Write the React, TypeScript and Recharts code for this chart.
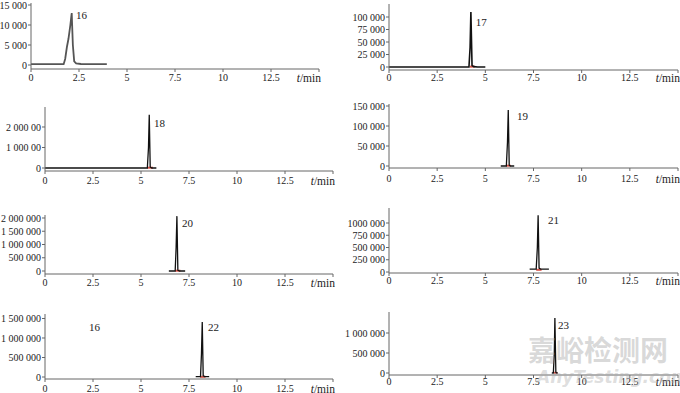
import React from "react";
import { LineChart, Line, XAxis, YAxis, ReferenceDot } from "recharts";

// retention time axis (min)
const timeTicks = [0, 2.5, 5, 7.5, 10, 12.5, 15];
const timeLabels = ["0", "2.5", "5", "7.5", "10", "12.5", ""];

// compound 16
const t16 = [0, 1.7, 1.78, 1.87, 1.95, 2.05, 2.12, 2.18, 2.25, 2.35, 2.6, 3.0, 3.95];
const s16 = [200, 200, 1500, 4500, 6500, 10000, 13000, 5000, 900, 400, 250, 200, 200];
const y16 = [0, 5000, 10000, 15000];
const y16Labels = ["0", "5 000", "10 000", "15 000"];

// compound 17
const t17 = [0, 4.15, 4.21, 4.25, 4.31, 4.4, 4.6, 5.0];
const s17 = [0, 0, 40000, 110000, 3000, 800, 0, 0];
const b17 = [[4.2, 700], [4.45, 700]];
const y17 = [0, 25000, 50000, 75000, 100000];
const y17Labels = ["0", "25 000", "50 000", "75 000", "100 000"];

// compound 18
const t18 = [0, 5.33, 5.39, 5.43, 5.48, 5.56, 5.8];
const s18 = [0, 0, 1000000, 2600000, 50000, 0, 0];
const b18 = [[5.33, 15000], [5.62, 15000]];
const y18 = [0, 1000000, 2000000];
const y18Labels = ["0", "1 000 00", "2 000 00"];

// compound 19
const t19 = [5.8, 6.09, 6.15, 6.19, 6.24, 6.3, 6.5];
const s19 = [0, 0, 60000, 140000, 2000, 0, 0];
const b19 = [[6.08, 800], [6.32, 800]];
const y19 = [0, 50000, 100000, 150000];
const y19Labels = ["0", "50 000", "100 000", "150 000"];

// compound 20
const t20 = [6.45, 6.78, 6.83, 6.87, 6.92, 7.0, 7.3];
const s20 = [0, 0, 900000, 2070000, 30000, 0, 0];
const b20 = [[6.78, 12000], [7.05, 12000]];
const y20 = [0, 500000, 1000000, 1500000, 2000000];
const y20Labels = ["0", "500 000", "1 000 000", "1 500 000", "2 000 000"];

// compound 21
const t21 = [7.3, 7.64, 7.7, 7.74, 7.79, 7.87, 8.3];
const s21 = [60000, 60000, 500000, 1160000, 80000, 60000, 60000];
const b21 = [[7.64, 45000], [7.92, 45000]];
const y21 = [0, 250000, 500000, 750000, 1000000];
const y21Labels = ["0", "250 000", "500 000", "750 000", "1000 000"];

// compound 22
const t22 = [7.85, 8.1, 8.15, 8.19, 8.24, 8.32, 8.55];
const s22 = [10000, 10000, 600000, 1410000, 30000, 10000, 10000];
const b22 = [[8.08, 5000], [8.36, 5000]];
const y22 = [0, 500000, 1000000, 1500000];
const y22Labels = ["0", "500 000", "1 000 000", "1 500 000"];

// compound 23
const t23 = [8.45, 8.53, 8.58, 8.61, 8.66, 8.71, 8.76];
const s23 = [0, 0, 500000, 1375000, 20000, 0, 0];
const b23 = [[8.5, 5000], [8.74, 5000]];
const y23 = [0, 500000, 1000000];
const y23Labels = ["0", "500 000", "1 000 000"];

const FONT = "'Liberation Serif'";
const AXIS = "#666";
const INK = "#222";

type Pt = { t: number; v: number };
type Tag = { t: number; v: number; text: string };

const toPts = (ts: number[], vs: number[]): Pt[] => ts.map((t, i) => ({ t, v: vs[i] }));
const toBase = (pairs: number[][]): Pt[] => pairs.map(([t, v]) => ({ t, v }));

const XTick = (props: any) => {
  const { x, y, payload } = props;
  const v = payload.value;
  if (v === 15) {
    return (
      <text x={x + 2} y={y} dy="0.71em" textAnchor="end" fill={INK} style={{ fontFamily: FONT, fontSize: 11.5 }}>
        <tspan fontStyle="italic">t</tspan>/min
      </text>
    );
  }
  return (
    <text x={x} y={y} dy="0.71em" textAnchor="middle" fill={INK} style={{ fontFamily: FONT, fontSize: 10 }}>
      {timeLabels[timeTicks.indexOf(v)]}
    </text>
  );
};

const makeYTick = (ticks: number[], labels: string[]) => (props: any) => {
  const { x, y, payload } = props;
  return (
    <text x={x} y={y} dy="0.355em" textAnchor="end" fill={INK} style={{ fontFamily: FONT, fontSize: 10, whiteSpace: "pre" }}>
      {labels[ticks.indexOf(payload.value)] ?? ""}
    </text>
  );
};

type PanelProps = {
  left: number;
  axisX: number;
  x15: number;
  yTop: number;
  yBottom: number;
  domain: [number, number];
  yTicks: number[];
  yLabels: string[];
  trace: Pt[];
  base?: Pt[];
  tags: Tag[];
  color?: string;
  width?: number;
  gap: number;
};

function Panel(p: PanelProps) {
  const height = p.yBottom - p.yTop + 2 + 22;
  return (
    <div style={{ position: "absolute", left: p.left, top: p.yTop - 2 }}>
      <LineChart
        width={340}
        height={height}
        margin={{ top: 2, right: p.left + 340 - p.x15, left: 0, bottom: 0 }}
        style={{ overflow: "visible" }}
      >
        <XAxis
          dataKey="t"
          type="number"
          domain={[0, 15]}
          ticks={timeTicks}
          interval={0}
          allowDataOverflow
          height={22}
          tickSize={3}
          tickMargin={p.gap}
          stroke={AXIS}
          tick={<XTick />}
        />
        <YAxis
          type="number"
          domain={p.domain}
          ticks={p.yTicks}
          interval={0}
          allowDataOverflow
          width={p.axisX - p.left}
          tickSize={3}
          tickMargin={1}
          stroke={AXIS}
          tick={makeYTick(p.yTicks, p.yLabels)}
        />
        {p.base && (
          <Line data={p.base} dataKey="v" stroke="#d9554a" strokeWidth={2} dot={false} isAnimationActive={false} />
        )}
        <Line
          data={p.trace}
          dataKey="v"
          type="linear"
          stroke={p.color ?? "#111"}
          strokeWidth={p.width ?? 1.3}
          dot={false}
          isAnimationActive={false}
        />
        {p.tags.map((g, i) => (
          <ReferenceDot
            key={i}
            x={g.t}
            y={g.v}
            r={0}
            stroke="none"
            fill="none"
            label={{ value: g.text, position: "right", offset: 0, fontSize: 11, fill: INK, style: { fontFamily: FONT } }}
          />
        ))}
      </LineChart>
    </div>
  );
}

export default function App() {
  return (
    <div
      style={{
        position: "absolute",
        left: 0,
        top: 0,
        width: 680,
        height: 393,
        background: "#fff",
        overflow: "hidden",
        fontFamily: FONT,
      }}
    >
      <Panel left={0} axisX={31} x15={319} yTop={3} yBottom={69} domain={[-1000, 15500]}
        yTicks={y16} yLabels={y16Labels} trace={toPts(t16, s16)} color="#555" width={1.8} gap={2}
        tags={[{ t: 2.34, v: 12500, text: "16" }]} />
      <Panel left={340} axisX={389} x15={678} yTop={4} yBottom={70} domain={[-6000, 126000]}
        yTicks={y17} yLabels={y17Labels} trace={toPts(t17, s17)} base={toBase(b17)} gap={1} width={1.6}
        tags={[{ t: 4.5, v: 90000, text: "17" }]} />
      <Panel left={0} axisX={45} x15={333} yTop={107} yBottom={171} domain={[-146000, 2975000]}
        yTicks={y18} yLabels={y18Labels} trace={toPts(t18, s18)} base={toBase(b18)} gap={3}
        tags={[{ t: 5.68, v: 2195000, text: "18" }]} />
      <Panel left={340} axisX={389} x15={678} yTop={104} yBottom={168} domain={[-5000, 155000]}
        yTicks={y19} yLabels={y19Labels} trace={toPts(t19, s19)} base={toBase(b19)} gap={4}
        tags={[{ t: 6.64, v: 125000, text: "19" }]} />
      <Panel left={0} axisX={45} x15={333} yTop={215} yBottom={274} domain={[-113000, 2113000]}
        yTicks={y20} yLabels={y20Labels} trace={toPts(t20, s20)} base={toBase(b20)} gap={2}
        tags={[{ t: 7.13, v: 1811000, text: "20" }]} />
      <Panel left={340} axisX={389} x15={678} yTop={208} yBottom={273} domain={[-20000, 1306000]}
        yTicks={y21} yLabels={y21Labels} trace={toPts(t21, s21)} base={toBase(b21)} gap={1}
        tags={[{ t: 8.25, v: 1061000, text: "21" }]} />
      <Panel left={0} axisX={45} x15={333} yTop={314} yBottom={379} domain={[-51000, 1615000]}
        yTicks={y22} yLabels={y22Labels} trace={toPts(t22, s22)} base={toBase(b22)} gap={3}
        tags={[{ t: 8.49, v: 1282000, text: "22" }, { t: 2.29, v: 1282000, text: "16" }]} />
      <Panel left={340} axisX={389} x15={678} yTop={312} yBottom={375} domain={[-50000, 1525000]}
        yTicks={y23} yLabels={y23Labels} trace={toPts(t23, s23)} base={toBase(b23)} gap={0}
        tags={[{ t: 8.77, v: 1200000, text: "23" }]} />
      <div
        style={{
          position: "absolute",
          left: 528,
          top: 333,
          fontFamily: "'Noto Sans CJK SC', sans-serif",
          fontSize: 28,
          fontWeight: 700,
          color: "rgba(170,170,170,0.45)",
          lineHeight: "32px",
          pointerEvents: "none",
        }}
      >
        嘉峪检测网
      </div>
      <div
        style={{
          position: "absolute",
          left: 537,
          top: 367,
          fontFamily: "'DejaVu Sans', sans-serif",
          fontSize: 17,
          fontStyle: "italic",
          fontWeight: 700,
          color: "rgba(170,170,170,0.4)",
          lineHeight: "20px",
          pointerEvents: "none",
        }}
      >
        AnyTesting.com
      </div>
    </div>
  );
}
